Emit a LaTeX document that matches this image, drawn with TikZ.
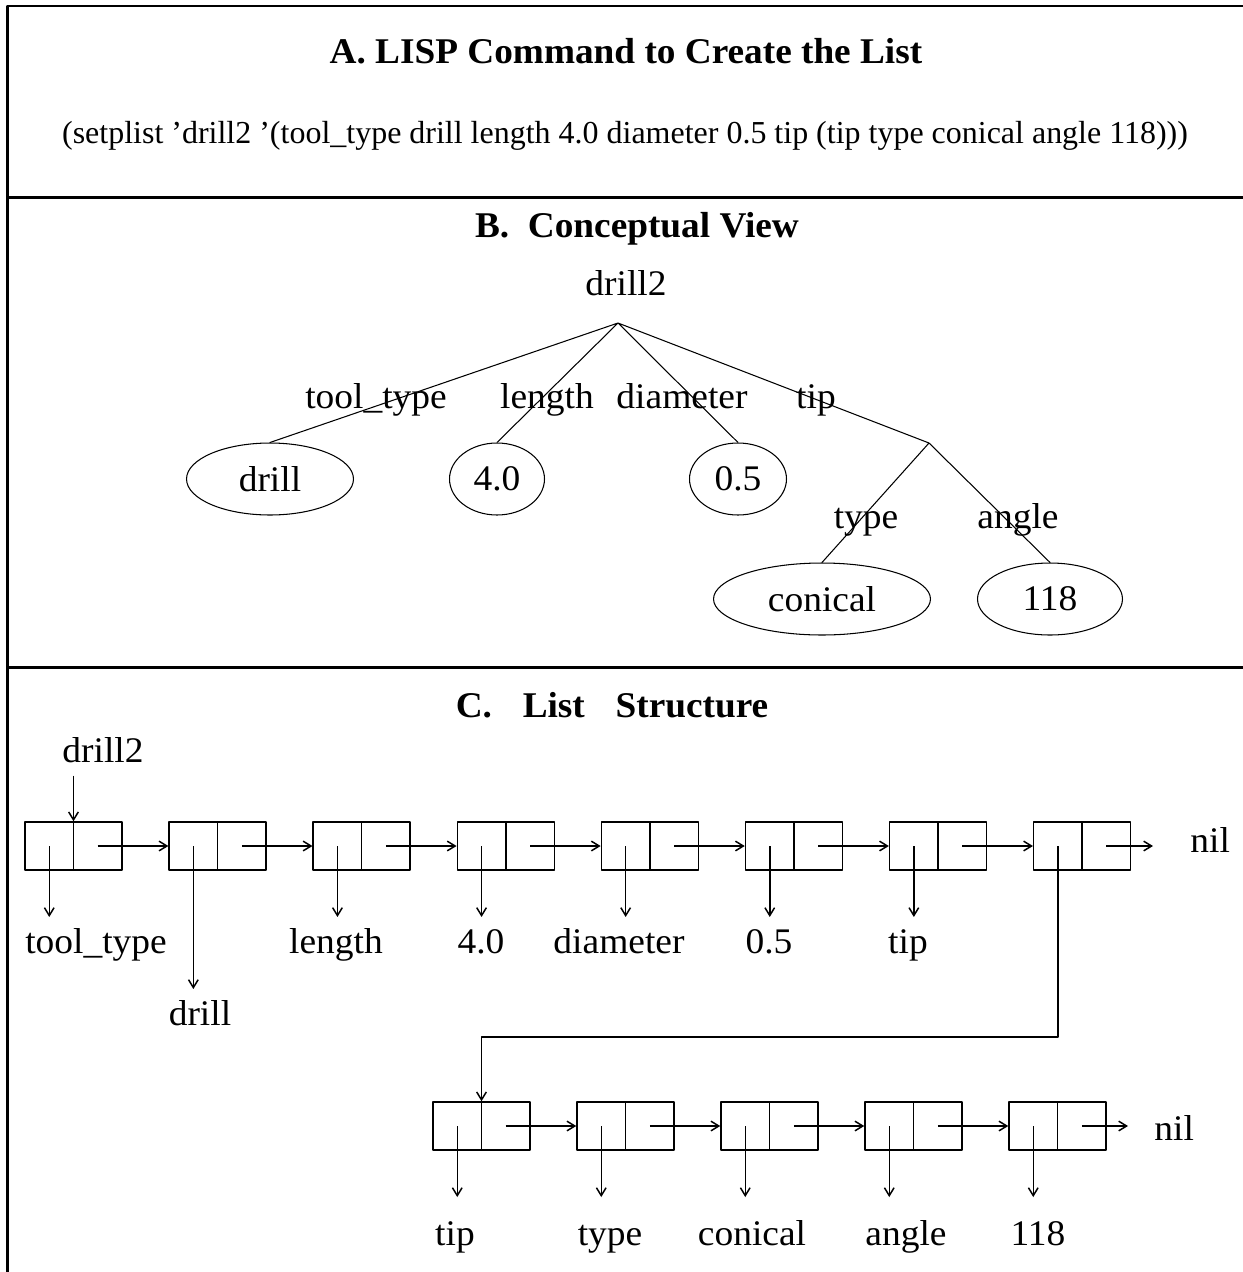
\documentclass[tikz,border=0pt]{standalone}
\usepackage{fontspec}
\setmainfont{Liberation Serif}
\newfontfamily\lblfont[FakeStretch=1.04]{Liberation Serif}
\newfontfamily\ttlfont[FakeStretch=1.03]{Liberation Serif}
\usetikzlibrary{shapes.geometric,arrows.meta}
\tikzset{
  frame/.style={line width=1.7pt},
  ttl/.style={inner sep=0pt, anchor=base, font=\ttlfont\fontsize{20.6}{24}\selectfont\bfseries},
  item/.style={inner sep=0pt, anchor=base, text height=13pt, outer ysep=7.5pt,
    font=\lblfont\fontsize{20.5}{24}\selectfont},
  val/.style={draw, ellipse, line width=0.6pt, inner sep=0pt, minimum height=1.44cm,
    font=\lblfont\fontsize{20.5}{24}\selectfont},
  tree/.style={line width=0.6pt},
  cell/.style={draw, line width=0.85pt, inner sep=0pt, minimum width=1.94cm, minimum height=0.96cm,
    path picture={\draw[line width=0.85pt] (path picture bounding box.north) -- (path picture bounding box.south);}},
  ptr/.style={line width=0.85pt, -{Straight Barb[length=4.5pt,width=5.5pt]}},
}
\begin{document}
\begin{tikzpicture}[x=0.02cm, y=-0.02cm, line join=round]
  \useasboundingbox (0,0) rectangle (1242,1272);
  \draw[frame]
    (7.5,1290) -- (7.5,6) -- (1260,6)
    (7.5,197.5) -- (1260,197.5)
    (7.5,667) -- (1260,667);

  % A
  \node[ttl] (ta) at (626,63) {A. LISP Command to Create the List};
  \node[inner sep=0pt, anchor=base, font=\fontsize{18.2}{22}\selectfont] (cmd) at (625,143)
    {(setplist 'drill2 '(tool\_type drill length 4.0 diameter 0.5 tip (tip type conical angle 118)))};

  % B
  \node[ttl] (tb) at (637,237) {B.\ \ Conceptual View};
  \node[item] (plist) at (626,295) {drill2};
  \coordinate (root) at (618,323);
  \coordinate (fork) at (929,443);
  \node[val, minimum width=3.34cm] (vdrill) at (270,479) {drill};
  \node[val, minimum width=1.9cm] (vlen) at (497,479) {4.0};
  \node[val, minimum width=1.94cm] (vdia) at (738,479) {0.5};
  \node[val, minimum width=4.34cm] (vcon) at (822,599) {conical};
  \node[val, minimum width=2.9cm] (vang) at (1050,599) {118};
  \draw[tree]
    (vdrill.north) -- (root) -- (vlen.north)
    (root) -- (vdia.north)
    (root) -- (fork) -- (vcon.north)
    (fork) -- (vang.north);
  \foreach \n/\x/\y/\t in {ktool/376/408/tool\_type, klen/547/408/length, kdia/682/408/diameter,
      ktip/816/408/tip, ktype/866/528/type, kang/1018/528/angle}
    \node[item] (\n) at (\x,\y) {\t};

  % C
  \node[ttl] (tc) at (612,717) {C.\hspace{0.85em}List\hspace{0.85em}Structure};
  \node[item] (head) at (103,762) {drill2};
  \foreach \i in {1,...,8} {
    \node[cell] (c\i) at ({73.5+144.1*(\i-1)},846) {};
    \coordinate (a\i) at ([xshift=-0.485cm]c\i.center);
    \coordinate (r\i) at ([xshift=0.485cm]c\i.center);
  }
  \foreach \i/\x/\y/\t in {1/96/953/tool\_type, 2/200/1025/drill, 3/336/953/length, 4/481/953/4.0,
      5/619/953/diameter, 6/769/953/0.5, 7/908/953/tip}
    \node[item] (t\i) at (\x,\y) {\t};
  \foreach \i in {1,...,7} {
    \pgfmathtruncatemacro\j{\i+1}
    \draw[ptr] (r\i) -- (c\j.west);
    \draw[ptr] (a\i) -- (a\i |- t\i.north);
  }
  \draw[ptr] (head.south -| c1.north) -- (c1.north);
  \coordinate (e1) at (1153,846);
  \draw[ptr] (r8) -- (e1);
  \node[item, anchor=base west] (nil1) at (1190,852) {nil};

  \foreach \i in {1,...,5} {
    \node[cell] (d\i) at ({481.5+144*(\i-1)},1126) {};
    \coordinate (b\i) at ([xshift=-0.485cm]d\i.center);
    \coordinate (s\i) at ([xshift=0.485cm]d\i.center);
  }
  \foreach \i/\x/\t in {1/455/tip, 2/610/type, 3/752/conical, 4/906/angle, 5/1038/118}
    \node[item, outer ysep=14.3pt] (u\i) at (\x,1245) {\t};
  \foreach \i in {1,...,4} {
    \pgfmathtruncatemacro\j{\i+1}
    \draw[ptr] (s\i) -- (d\j.west);
  }
  \foreach \i in {1,...,5}
    \draw[ptr] (b\i) -- (b\i |- u\i.north);
  \coordinate (e2) at (1128,1126);
  \draw[ptr] (s5) -- (e2);
  \node[item, anchor=base west] (nil2) at (1154,1140) {nil};

  \draw[ptr] (a8) -- ++(0,191) -| (d1.north);
\end{tikzpicture}
\end{document}
